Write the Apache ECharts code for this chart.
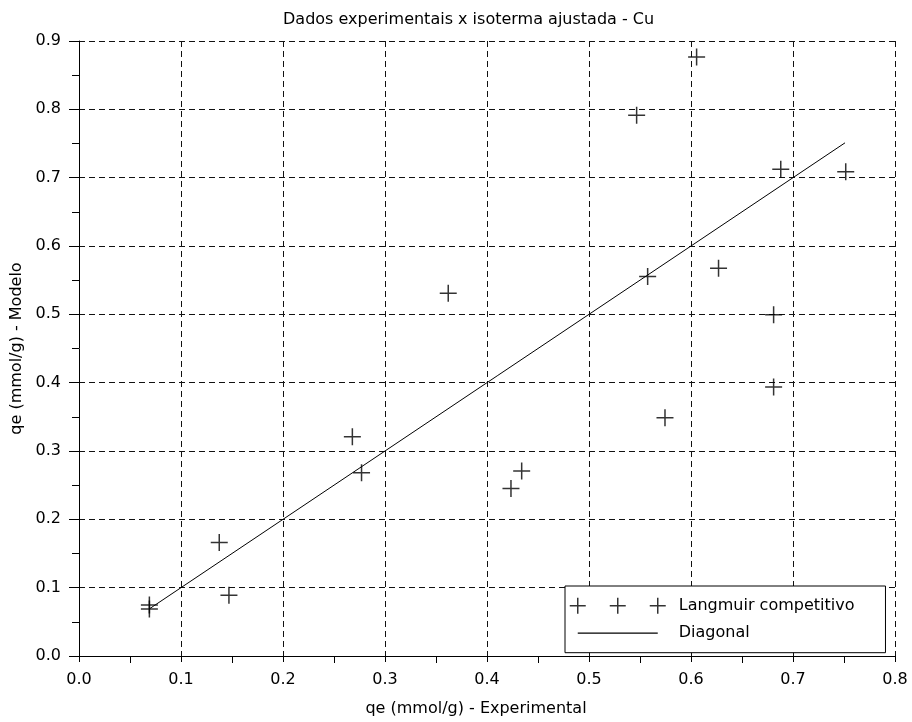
<!DOCTYPE html>
<html>
<head>
<meta charset="utf-8">
<script src="https://cdn.jsdelivr.net/npm/echarts@6/dist/echarts.min.js"></script>
<style>
html,body{margin:0;padding:0;background:#fff;}
#chart{width:912px;height:722px;}
</style>
</head>
<body>
<div id="chart"></div>
<script>
// Data
const titleText = 'Dados experimentais x isoterma ajustada - Cu';
const xAxisName = 'qe (mmol/g) - Experimental';
const yAxisName = 'qe (mmol/g) - Modelo';
const seriesNames = ['Langmuir competitivo', 'Diagonal'];

const expX   = [0.069, 0.069, 0.1375, 0.147, 0.268, 0.277, 0.362, 0.4235, 0.434, 0.5467, 0.5575, 0.5745, 0.6055, 0.627, 0.681, 0.681, 0.688, 0.7517];
const modelY = [0.0745, 0.0686, 0.166, 0.089, 0.321, 0.268, 0.531, 0.245, 0.2706, 0.7915, 0.5553, 0.3486, 0.8766, 0.5676, 0.4994, 0.3938, 0.7122, 0.7087];

const diagX = [0.069, 0.751];
const diagY = [0.069, 0.751];

const xTicks = [0.0, 0.1, 0.2, 0.3, 0.4, 0.5, 0.6, 0.7, 0.8];
const yTicks = [0.0, 0.1, 0.2, 0.3, 0.4, 0.5, 0.6, 0.7, 0.8, 0.9];

const FONT = 'DejaVu Sans';
const plusPath = 'path://M0,8H16M8,0V16';
const legendPlusPath = 'path://M0,8H16M8,0V16M40,8H56M48,0V16M80,8H96M88,0V16M104,16';
const legendLinePath = 'path://M0,0M8,8H88M104,16';

const scatterData = expX.map((x, i) => [x, modelY[i]]);
const diagData = diagX.map((x, i) => [x, diagY[i]]);

const chart = echarts.init(document.getElementById('chart'), null, {renderer: 'canvas'});

const axisCommon = {
  type: 'value',
  min: 0,
  interval: 0.1,
  nameLocation: 'middle',
  nameTextStyle: {color: '#000', fontFamily: FONT, fontSize: 16},
  axisLine: {show: true, onZero: false, lineStyle: {color: '#000', width: 1}},
  axisTick: {show: true, inside: false, length: 10, lineStyle: {color: '#000', width: 1}},
  minorTick: {show: true, splitNumber: 2, length: 7, lineStyle: {color: '#000', width: 1}},
  axisLabel: {color: '#000', fontFamily: FONT, fontSize: 16, formatter: v => v.toFixed(1)},
  splitLine: {show: true, showMinLine: true, showMaxLine: true, lineStyle: {color: '#111', width: 1, type: [6, 4]}},
  minorSplitLine: {show: false}
};

chart.setOption({
  animation: false,
  backgroundColor: '#fff',
  title: {
    text: titleText,
    left: 278,
    top: 7,
    textStyle: {color: '#000', fontFamily: FONT, fontSize: 16, fontWeight: 'normal'}
  },
  grid: {left: 79, right: 17, top: 41, bottom: 65, containLabel: false},
  xAxis: Object.assign({}, axisCommon, {
    max: 0.8,
    name: xAxisName,
    nameGap: 45,
    nameTextStyle: {color: '#000', fontFamily: FONT, fontSize: 16, padding: [0, 22, 0, 0]},
    axisLabel: Object.assign({}, axisCommon.axisLabel, {margin: 16, showMaxLabel: true, showMinLabel: true}),
    axisTick: Object.assign({}, axisCommon.axisTick, {length: 6})
  }),
  yAxis: Object.assign({}, axisCommon, {
    max: 0.9,
    name: yAxisName,
    nameGap: 53,
    nameRotate: 90,
    axisLabel: Object.assign({}, axisCommon.axisLabel, {margin: 18})
  }),
  legend: {
    orient: 'vertical',
    left: 565,
    top: 586,
    padding: [11, 31, 11, 4],
    itemWidth: 104,
    itemHeight: 16,
    itemGap: 10,
    backgroundColor: '#fff',
    borderColor: '#000',
    borderWidth: 1,
    borderRadius: 0,
    textStyle: {color: '#000', fontFamily: FONT, fontSize: 16},
    selectedMode: false,
    data: [
      {name: seriesNames[0], icon: legendPlusPath, itemStyle: {color: 'transparent', borderColor: '#000', borderWidth: 1.5}},
      {name: seriesNames[1], icon: legendLinePath, itemStyle: {color: 'transparent', borderColor: '#000', borderWidth: 1.2}}
    ]
  },
  series: [
    {
      name: seriesNames[0],
      type: 'scatter',
      data: scatterData,
      symbol: plusPath,
      symbolSize: 17,
      itemStyle: {color: 'transparent', borderColor: '#000', borderWidth: 1.5},
      z: 3
    },
    {
      name: seriesNames[1],
      type: 'line',
      data: diagData,
      symbol: 'none',
      lineStyle: {color: '#000', width: 1},
      itemStyle: {color: '#000'},
      z: 2
    }
  ]
});
</script>
</body>
</html>
